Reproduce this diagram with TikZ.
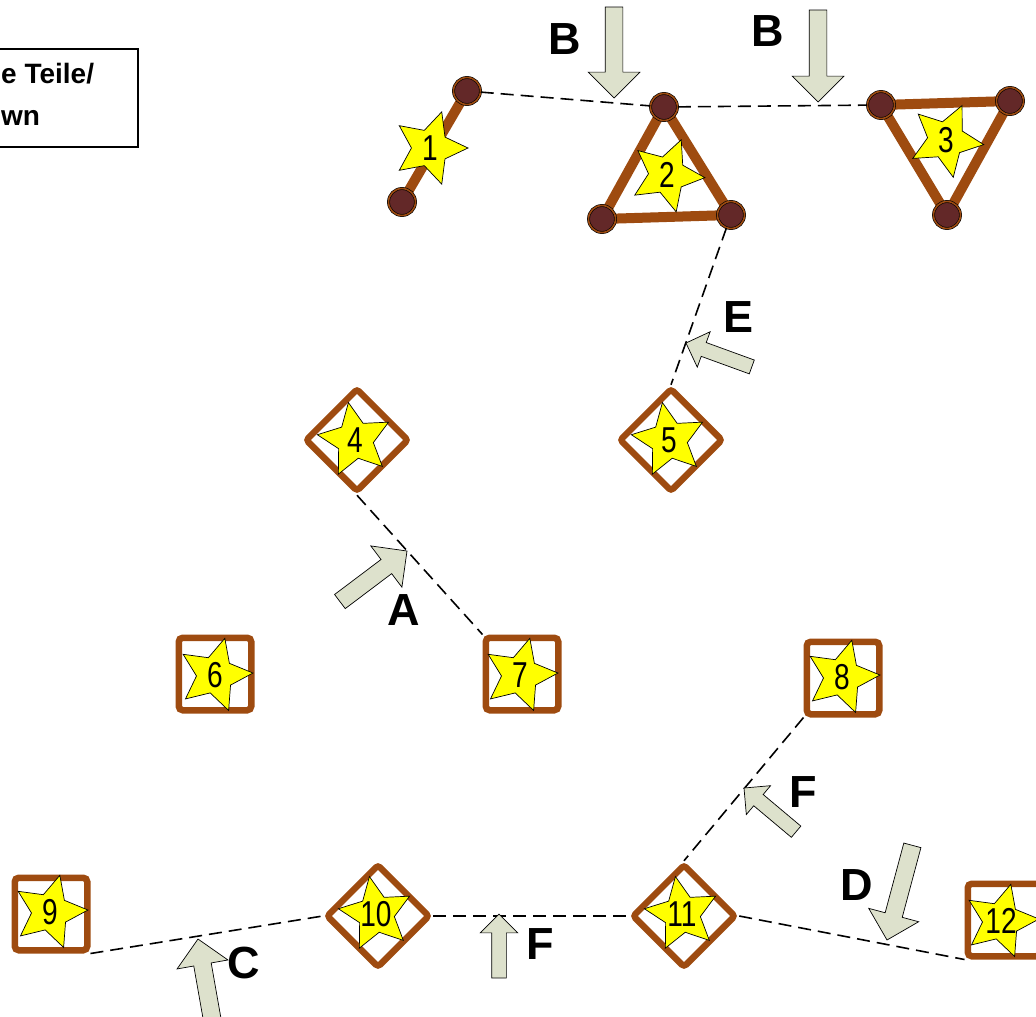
\documentclass[tikz,border=0pt]{standalone}
\usepackage{fontspec}
\setmainfont{Liberation Sans}
\newfontfamily\numfont[FakeStretch=0.78]{Liberation Sans}
\usepackage{tikz}
\usetikzlibrary{shapes.geometric}
\usetikzlibrary{shapes.arrows}
\definecolor{framebrown}{HTML}{9E4B10}
\definecolor{jointred}{HTML}{632828}
\definecolor{arrowgrey}{HTML}{DDE1CC}
\definecolor{staryellow}{HTML}{FFFF00}
\tikzset{
  rod/.style={framebrown, line width=10pt, line cap=round, line join=round},
  joint/.style={circle, fill=jointred, draw=black, line width=0.6pt, double=framebrown, double distance=1.6pt, minimum size=27pt, inner sep=0pt},
  squarepart/.style={rectangle, draw=framebrown, line width=6.5pt, rounded corners=4pt, minimum size=72.5pt, inner sep=0pt},
  diamondpart/.style={diamond, draw=framebrown, line width=6.5pt, rounded corners=3pt, minimum size=104pt, inner sep=0pt},
  partstar/.style={star, star points=5, star point ratio=2.05, fill=staryellow, draw=black, line width=0.7pt, minimum size=76pt, inner sep=0pt},
  partnum/.style={font=\numfont\fontsize{36}{36}\selectfont, inner sep=0pt},
  link/.style={black, line width=1.6pt, dash pattern=on 13pt off 7pt},
  blockarrow/.style={single arrow, draw=black, line width=0.7pt, fill=arrowgrey, inner xsep=0pt, inner ysep=8.5pt, outer sep=0pt, single arrow head extend=17pt, anchor=tip},
  smallarrow/.style={blockarrow, inner ysep=7pt, single arrow head extend=11.5pt},
  letter/.style={font=\fontsize{45}{45}\selectfont\bfseries, inner sep=0pt}
}

\begin{document}
\begin{tikzpicture}[x=1pt, y=-1pt]
  \useasboundingbox (0,0) rectangle (1036,1017);
  % legend, cut at the left edge
  \draw[line width=1.5pt] (-20,49) rectangle (138,147);
  \node[anchor=base west, align=left, inner sep=0pt, font=\fontsize{28}{42}\selectfont\bfseries] (legend) at (1,125) {e Teile/\\wn};

  % rods
  \coordinate (p1a) at (467,91);
  \coordinate (p1b) at (402,202);
  \coordinate (p2a) at (664,107);
  \coordinate (p2b) at (602,219);
  \coordinate (p2c) at (731,215);
  \coordinate (p3a) at (881,105);
  \coordinate (p3b) at (1010,101);
  \coordinate (p3c) at (947,215);
  \draw[rod] (p1a) -- (p1b);
  \draw[rod] (p2a) -- (p2b) -- (p2c) -- cycle;
  \draw[rod] (p3a) -- (p3b) -- (p3c) -- cycle;
  \foreach \j in {1a,1b,2a,2b,2c,3a,3b,3c}
    \node[joint] (j\j) at (p\j) {};

  % frames
  \node[diamondpart] (n4) at (357,440) {};
  \node[diamondpart] (n5) at (671,440) {};
  \node[squarepart] (n6) at (215,674) {};
  \node[squarepart] (n7) at (522,674) {};
  \node[squarepart] (n8) at (843,678) {};
  \node[squarepart] (n9) at (51,914) {};
  \node[diamondpart] (n10) at (378,916) {};
  \node[diamondpart] (n11) at (684,916) {};
  \node[squarepart] (n12) at (1004,920) {};

  % stars
  \node[partstar, shape border rotate=-18, label={[partnum]center:1}] (s1) at (430,148) {};
  \node[partstar, shape border rotate=-22, label={[partnum]center:2}] (s2) at (667,175) {};
  \node[partstar, shape border rotate=-25, label={[partnum]center:3}] (s3) at (946,140) {};
  \node[partstar, shape border rotate=10, label={[partnum]center:4}] (s4) at (355,440) {};
  \node[partstar, shape border rotate=10, label={[partnum]center:5}] (s5) at (669,440) {};
  \node[partstar, shape border rotate=-15, label={[partnum]center:6}] (s6) at (215,675) {};
  \node[partstar, shape border rotate=-15, label={[partnum]center:7}] (s7) at (520,675) {};
  \node[partstar, shape border rotate=-15, label={[partnum]center:8}] (s8) at (842,677) {};
  \node[partstar, shape border rotate=-15, label={[partnum]center:9}] (s9) at (50,912) {};
  \node[partstar, shape border rotate=10, label={[partnum]center:10}] (s10) at (376,914) {};
  \node[partstar, shape border rotate=10, label={[partnum]center:11}] (s11) at (682,914) {};
  \node[partstar, shape border rotate=-15, label={[partnum]center:12}] (s12) at (1001,921) {};

  % dashed links
  \draw[link] (j1a) -- (j2a);
  \draw[link] (j2a) -- (j3a);
  \draw[link] (j2c) -- (n5.north);
  \draw[link] (n4.south) -- (n7.north west);
  \draw[link] (n8.south west) -- (n11.north);
  \draw[link] (n9.south east) -- (n10.west);
  \draw[link] (n10.east) -- (n11.west);
  \draw[link] (n11.east) -- (n12.south west);

  % block arrows
  \node[blockarrow, rotate=-90, minimum height=91pt] (arrB1) at (614,98) {};
  \node[blockarrow, rotate=-90, minimum height=92pt] (arrB2) at (818,102) {};
  \node[smallarrow, rotate=160, minimum height=70pt] (arrE) at (686,343) {};
  \node[blockarrow, rotate=37, minimum height=84pt] (arrA) at (407,551) {};
  \node[blockarrow, rotate=100, minimum height=100pt] (arrC) at (198,939) {};
  \node[smallarrow, rotate=90, minimum height=64pt] (arrF1) at (499,914) {};
  \node[smallarrow, rotate=140, minimum height=68pt] (arrF2) at (744,788) {};
  \node[blockarrow, rotate=-105, minimum height=98pt] (arrD) at (887,940) {};

  % letters
  \node[letter] (labB1) at (565,39) {B};
  \node[letter] (labB2) at (768,31) {B};
  \node[letter] (labE) at (738,317) {E};
  \node[letter] (labA) at (404,610) {A};
  \node[letter] (labC) at (244,963) {C};
  \node[letter] (labF1) at (540,944) {F};
  \node[letter] (labF2) at (803,792) {F};
  \node[letter] (labD) at (857,885) {D};
\end{tikzpicture}
\end{document}
